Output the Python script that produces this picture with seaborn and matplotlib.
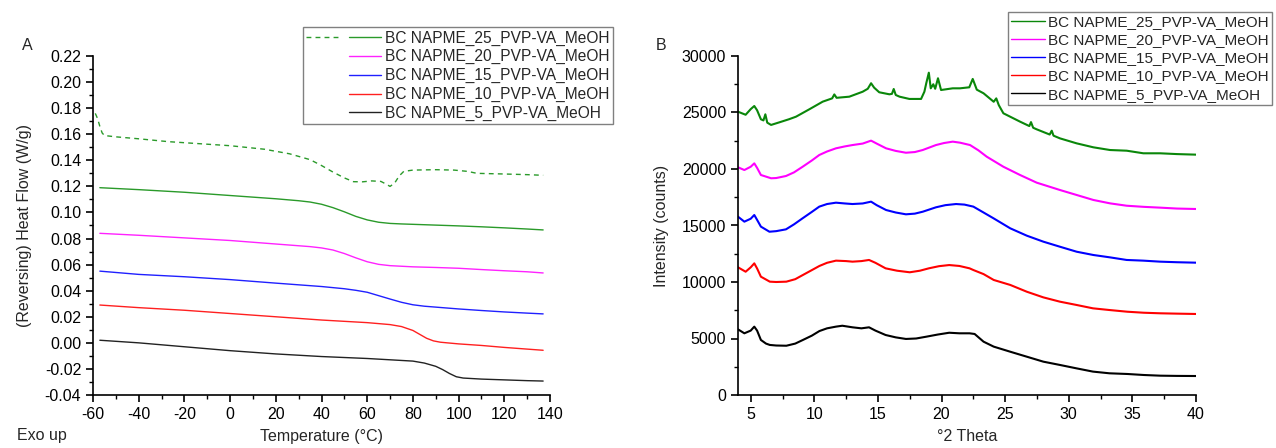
import numpy as np
import pandas as pd
import matplotlib
matplotlib.use("Agg")
import matplotlib.pyplot as plt
import seaborn as sns
from matplotlib.lines import Line2D
from matplotlib.legend_handler import HandlerTuple
from matplotlib.ticker import MultipleLocator, FormatStrFormatter

# ---------------- data ----------------
series_labels = ["BC NAPME_25_PVP-VA_MeOH", "BC NAPME_20_PVP-VA_MeOH",
                 "BC NAPME_15_PVP-VA_MeOH", "BC NAPME_10_PVP-VA_MeOH",
                 "BC NAPME_5_PVP-VA_MeOH"]

# Panel A: reversing heat flow (W/g) vs temperature (°C)
dsc25_dash_T = [-59, -58, -57, -56, -55, -50, -40, -27, 0, 15, 26, 35, 40, 45, 50, 54, 58, 62, 66,
                68, 70, 72, 74, 76, 80, 90, 98, 104, 108, 120, 130, 137]
dsc25_dash_HF = [0.176, 0.172, 0.166, 0.161, 0.159, 0.158, 0.1565, 0.1543, 0.1512, 0.1485, 0.145,
                 0.1405, 0.136, 0.131, 0.1265, 0.1236, 0.1235, 0.1242, 0.1238, 0.122, 0.120, 0.1225,
                 0.128, 0.1315, 0.1325, 0.1328, 0.1325, 0.1315, 0.130, 0.1295, 0.129, 0.1285]

dsc25_T = [-57, -40, -20, 0, 20, 30, 35, 40, 45, 50, 55, 60, 65, 70, 75, 80, 90, 100, 110, 120,
           130, 137]
dsc25_HF = [0.119, 0.1175, 0.1155, 0.113, 0.1105, 0.109, 0.108, 0.1063, 0.1037, 0.1005, 0.097,
            0.0943, 0.0925, 0.0916, 0.0912, 0.0909, 0.0903, 0.0897, 0.089, 0.0882, 0.0873, 0.0866]

dsc20_T = [-57, -40, -20, 0, 20, 35, 40, 45, 50, 55, 60, 65, 70, 80, 90, 100, 110, 120, 130, 137]
dsc20_HF = [0.084, 0.0825, 0.0805, 0.0785, 0.0758, 0.0738, 0.0728, 0.0712, 0.0685, 0.0652,
            0.0622, 0.0602, 0.0592, 0.0583, 0.0578, 0.0572, 0.0562, 0.0553, 0.0545, 0.0536]

dsc15_T = [-57, -40, -20, 0, 20, 40, 50, 55, 60, 65, 70, 75, 80, 85, 90, 100, 110, 120, 130, 137]
dsc15_HF = [0.055, 0.0525, 0.0507, 0.0485, 0.0458, 0.0432, 0.0415, 0.0403, 0.0388, 0.0362,
            0.0336, 0.0311, 0.0292, 0.0281, 0.0274, 0.026, 0.0248, 0.0237, 0.0228, 0.0222]

dsc10_T = [-57, -40, -20, 0, 20, 40, 60, 70, 75, 80, 83, 86, 89, 92, 95, 100, 110, 120, 130, 137]
dsc10_HF = [0.029, 0.027, 0.025, 0.0225, 0.020, 0.0175, 0.0155, 0.014, 0.0125, 0.0095, 0.0065,
            0.0035, 0.0015, 0.0005, 0.0, -0.0008, -0.002, -0.0035, -0.0048, -0.0057]

dsc5_T = [-57, -40, -20, 0, 20, 40, 60, 70, 80, 85, 90, 93, 96, 99, 102, 105, 110, 120, 130, 137]
dsc5_HF = [0.002, 0.000, -0.003, -0.006, -0.0085, -0.0105, -0.012, -0.013, -0.014, -0.0155,
           -0.018, -0.0205, -0.0235, -0.026, -0.027, -0.0273, -0.0278, -0.0284, -0.029, -0.0293]

# Panel B: intensity (counts) vs °2 Theta
xrd25_2t = [4.0, 4.6, 5.0, 5.28, 5.5, 5.8, 6.0, 6.15, 6.3, 6.6, 7.25, 8.0, 8.56, 9.6, 10.66, 11.4,
            11.57, 11.75, 12.75, 13.8, 14.2, 14.46, 14.7, 15.1, 15.9, 16.1, 16.24, 16.4, 16.7,
            17.47, 18.39, 18.65, 18.8, 19.0, 19.15, 19.35, 19.5, 19.72, 19.96, 20.88, 21.45,
            22.18, 22.45, 22.77, 23.3, 24.1, 24.3, 24.5, 24.86, 26.17, 26.9, 27.03, 27.2, 27.48,
            28.5, 28.66, 28.8, 29.31, 30.62, 31.93, 33.24, 34.55, 35.86, 37.18, 38.5, 40.0]
xrd25_I = [25070, 24800, 25300, 25575, 25200, 24400, 24300, 24840, 24100, 23900, 24130, 24400,
           24630, 25280, 25960, 26250, 26600, 26300, 26400, 26840, 27100, 27590, 27200, 26790,
           26610, 26650, 27080, 26550, 26400, 26200, 26200, 26840, 27600, 28525, 27140, 27500,
           27100, 28030, 26990, 27140, 27140, 27230, 27970, 27020, 26700, 25950, 26250, 25650,
           24930, 24190, 23800, 24150, 23650, 23510, 23050, 23390, 22950, 22710, 22270, 21920,
           21680, 21620, 21390, 21390, 21320, 21270]

xrd20_2t = [4.0, 4.5, 5.0, 5.28, 5.5, 5.8, 6.6, 7.0, 7.77, 8.4, 9.08, 9.8, 10.39, 11.0, 11.7, 12.4,
            13.0, 13.8, 14.46, 14.9, 15.64, 16.4, 17.2, 17.9, 18.52, 19.56, 20.2, 20.88, 21.45,
            22.24, 22.9, 23.55, 24.86, 26.17, 27.48, 29.31, 30.62, 31.93, 33.24, 34.55, 35.9,
            37.18, 38.5, 40.0]
xrd20_I = [20150, 19910, 20200, 20500, 20100, 19470, 19180, 19200, 19380, 19700, 20200, 20750,
           21240, 21550, 21830, 22000, 22120, 22250, 22510, 22250, 21830, 21600, 21440, 21500,
           21680, 22120, 22300, 22420, 22330, 22120, 21650, 21090, 20200, 19470, 18790, 18140,
           17700, 17260, 16960, 16750, 16650, 16580, 16500, 16460]

xrd15_2t = [4.0, 4.5, 5.0, 5.28, 5.5, 5.8, 6.47, 7.0, 7.77, 8.4, 9.08, 9.8, 10.39, 11.0, 11.7,
            12.4, 13.0, 13.8, 14.46, 14.9, 15.64, 16.4, 17.2, 17.9, 18.52, 19.56, 20.3, 21.14,
            21.8, 22.5, 23.3, 24.08, 25.4, 26.7, 28.0, 29.31, 30.62, 31.93, 33.24, 34.55, 35.86,
            37.18, 38.5, 40.0]
xrd15_I = [15780, 15340, 15600, 15930, 15500, 14900, 14450, 14500, 14660, 15100, 15640, 16200,
           16670, 16900, 17020, 16950, 16900, 16950, 17110, 16800, 16370, 16150, 15990, 16050,
           16220, 16610, 16800, 16900, 16850, 16670, 16150, 15640, 14750, 14100, 13570, 13120,
           12680, 12390, 12180, 11950, 11890, 11800, 11750, 11710]

xrd10_2t = [4.0, 4.6, 5.0, 5.28, 5.5, 5.8, 6.5, 7.0, 7.8, 8.5, 9.1, 9.8, 10.4, 11.0, 11.7, 12.5,
            13.0, 13.7, 14.3, 14.8, 15.6, 16.5, 17.5, 18.3, 19.0, 19.8, 20.6, 21.4, 22.2, 22.5,
            23.3, 24.1, 25.4, 26.7, 28.0, 29.3, 30.6, 31.9, 33.2, 34.6, 35.9, 37.2, 38.5, 40.0]
xrd10_I = [11300, 10910, 11300, 11650, 11200, 10470, 10030, 10000, 10030, 10250, 10620, 11050,
           11420, 11700, 11890, 11850, 11800, 11850, 11950, 11700, 11210, 11000, 10860, 11000,
           11210, 11400, 11500, 11420, 11210, 11060, 10700, 10180, 9740, 9140, 8640, 8260, 7970,
           7670, 7520, 7370, 7280, 7230, 7200, 7170]

xrd5_2t = [4.0, 4.5, 5.0, 5.28, 5.5, 5.8, 6.2, 6.5, 7.0, 7.8, 8.5, 9.1, 9.8, 10.4, 11.0, 11.7,
           12.2, 13.0, 13.7, 14.3, 14.8, 15.6, 16.4, 17.2, 18.0, 18.8, 19.7, 20.6, 21.4, 22.2,
           22.6, 23.3, 24.1, 25.4, 26.7, 28.0, 29.3, 30.6, 31.9, 33.2, 34.6, 35.9, 37.2, 38.5, 40.0]
xrd5_I = [5810, 5460, 5700, 6050, 5700, 4870, 4550, 4430, 4380, 4360, 4550, 4870, 5250, 5660,
          5900, 6050, 6130, 5990, 5900, 5990, 5700, 5310, 5100, 4960, 5000, 5160, 5350, 5510,
          5460, 5460, 5400, 4720, 4280, 3830, 3390, 2950, 2660, 2360, 2070, 1920, 1860, 1770,
          1710, 1690, 1680]

# ---------------- styling ----------------
sns.set_style("ticks")
plt.rcParams["font.family"] = ["Liberation Sans", "DejaVu Sans"]
plt.rcParams["axes.unicode_minus"] = False
FS = 11.5

dsc_colors = {series_labels[0]: "#2a9a2a", series_labels[1]: "#ff22ff",
              series_labels[2]: "#2020ff", series_labels[3]: "#ff2020",
              series_labels[4]: "#222222"}
xrd_colors = {series_labels[0]: "#0a870a", series_labels[1]: "#ff00ff",
              series_labels[2]: "#0000ff", series_labels[3]: "#ff0000",
              series_labels[4]: "#000000"}

W, H = 1276, 448
fig = plt.figure(figsize=(W / 100, H / 100), dpi=100)
ax1 = fig.add_axes([93 / W, 53 / H, 457 / W, 339 / H])
ax2 = fig.add_axes([738 / W, 53 / H, 458 / W, 339 / H])

# ---------- Panel A ----------
dsc_df = pd.concat([
    pd.DataFrame({"T": dsc25_T, "HF": dsc25_HF, "s": series_labels[0]}),
    pd.DataFrame({"T": dsc20_T, "HF": dsc20_HF, "s": series_labels[1]}),
    pd.DataFrame({"T": dsc15_T, "HF": dsc15_HF, "s": series_labels[2]}),
    pd.DataFrame({"T": dsc10_T, "HF": dsc10_HF, "s": series_labels[3]}),
    pd.DataFrame({"T": dsc5_T, "HF": dsc5_HF, "s": series_labels[4]}),
], ignore_index=True)
sns.lineplot(data=dsc_df, x="T", y="HF", hue="s", palette=dsc_colors, estimator=None,
             sort=False, legend=False, lw=1.0, ax=ax1)
dash_df = pd.DataFrame({"T": dsc25_dash_T, "HF": dsc25_dash_HF})
sns.lineplot(data=dash_df, x="T", y="HF", color=dsc_colors[series_labels[0]], estimator=None,
             sort=False, lw=1.0, ax=ax1, linestyle=(0, (3.5, 3)))

ax1.set_xlim(-60, 140)
ax1.set_ylim(-0.04, 0.22)
ax1.xaxis.set_major_locator(MultipleLocator(20))
ax1.xaxis.set_minor_locator(MultipleLocator(10))
ax1.yaxis.set_major_locator(MultipleLocator(0.02))
ax1.yaxis.set_minor_locator(MultipleLocator(0.01))
ax1.yaxis.set_major_formatter(FormatStrFormatter("%.2f"))
ax1.set_xlabel("Temperature (°C)", fontsize=FS, labelpad=5)
ax1.set_ylabel("(Reversing) Heat Flow (W/g)", fontsize=FS, labelpad=9)

# ---------- Panel B ----------
xrd_df = pd.concat([
    pd.DataFrame({"tt": xrd25_2t, "I": xrd25_I, "s": series_labels[0]}),
    pd.DataFrame({"tt": xrd20_2t, "I": xrd20_I, "s": series_labels[1]}),
    pd.DataFrame({"tt": xrd15_2t, "I": xrd15_I, "s": series_labels[2]}),
    pd.DataFrame({"tt": xrd10_2t, "I": xrd10_I, "s": series_labels[3]}),
    pd.DataFrame({"tt": xrd5_2t, "I": xrd5_I, "s": series_labels[4]}),
], ignore_index=True)
sns.lineplot(data=xrd_df, x="tt", y="I", hue="s", palette=xrd_colors, estimator=None,
             sort=False, legend=False, lw=1.5, ax=ax2)
ax2.set_xlim(4, 40)
ax2.set_ylim(0, 30000)
ax2.xaxis.set_major_locator(MultipleLocator(5))
ax2.xaxis.set_minor_locator(MultipleLocator(2.5))
ax2.yaxis.set_major_locator(MultipleLocator(5000))
ax2.yaxis.set_minor_locator(MultipleLocator(2500))
ax2.set_xlabel("°2 Theta", fontsize=FS, labelpad=5)
ax2.set_ylabel("Intensity (counts)", fontsize=FS, labelpad=9)

for ax in (ax1, ax2):
    for side in ("top", "right"):
        ax.spines[side].set_visible(False)
    for side in ("left", "bottom"):
        ax.spines[side].set_linewidth(1.2)
        ax.spines[side].set_color("black")
    ax.tick_params(which="major", direction="out", length=5, width=1.2, labelsize=FS,
                   colors="black")
    ax.tick_params(which="minor", direction="out", length=3, width=1.0, colors="black")

# ---------- legends ----------
green = dsc_colors[series_labels[0]]
blank = Line2D([], [], color=(0, 0, 0, 0), lw=1)
hA = [(Line2D([], [], color=green, lw=1, linestyle=(0, (3.5, 3))),
       Line2D([], [], color=green, lw=1))]
for lab in series_labels[1:]:
    hA.append((blank, Line2D([], [], color=dsc_colors[lab], lw=1)))
legA = fig.legend(hA, series_labels, loc="upper left", bbox_to_anchor=(303 / W, 1 - 27 / H),
                  borderaxespad=0, fontsize=11.2, handlelength=4.8, handletextpad=0.28,
                  labelspacing=0.24, borderpad=0.22, fancybox=False, framealpha=1,
                  edgecolor="#808080",
                  handler_map={tuple: HandlerTuple(ndivide=None, pad=0.7)})
legA.get_frame().set_linewidth(1.0)

hB = [Line2D([], [], color=xrd_colors[lab], lw=1) for lab in series_labels]
legB = fig.legend(hB, series_labels, loc="upper left", bbox_to_anchor=(1008 / W, 1 - 12 / H),
                  borderaxespad=0, fontsize=11.0, handlelength=2.2, handletextpad=0.25,
                  labelspacing=0.27, borderpad=0.2, fancybox=False, framealpha=1,
                  edgecolor="#808080")
legB.get_frame().set_linewidth(1.0)

# ---------- panel letters / notes ----------
fig.text(27 / W, 1 - 45 / H, "A", ha="center", va="center", fontsize=FS)
fig.text(661 / W, 1 - 45 / H, "B", ha="center", va="center", fontsize=FS)
fig.text(17 / W, 1 - 435 / H, "Exo up", ha="left", va="center", fontsize=FS)

fig.savefig("out.png", dpi=100)
